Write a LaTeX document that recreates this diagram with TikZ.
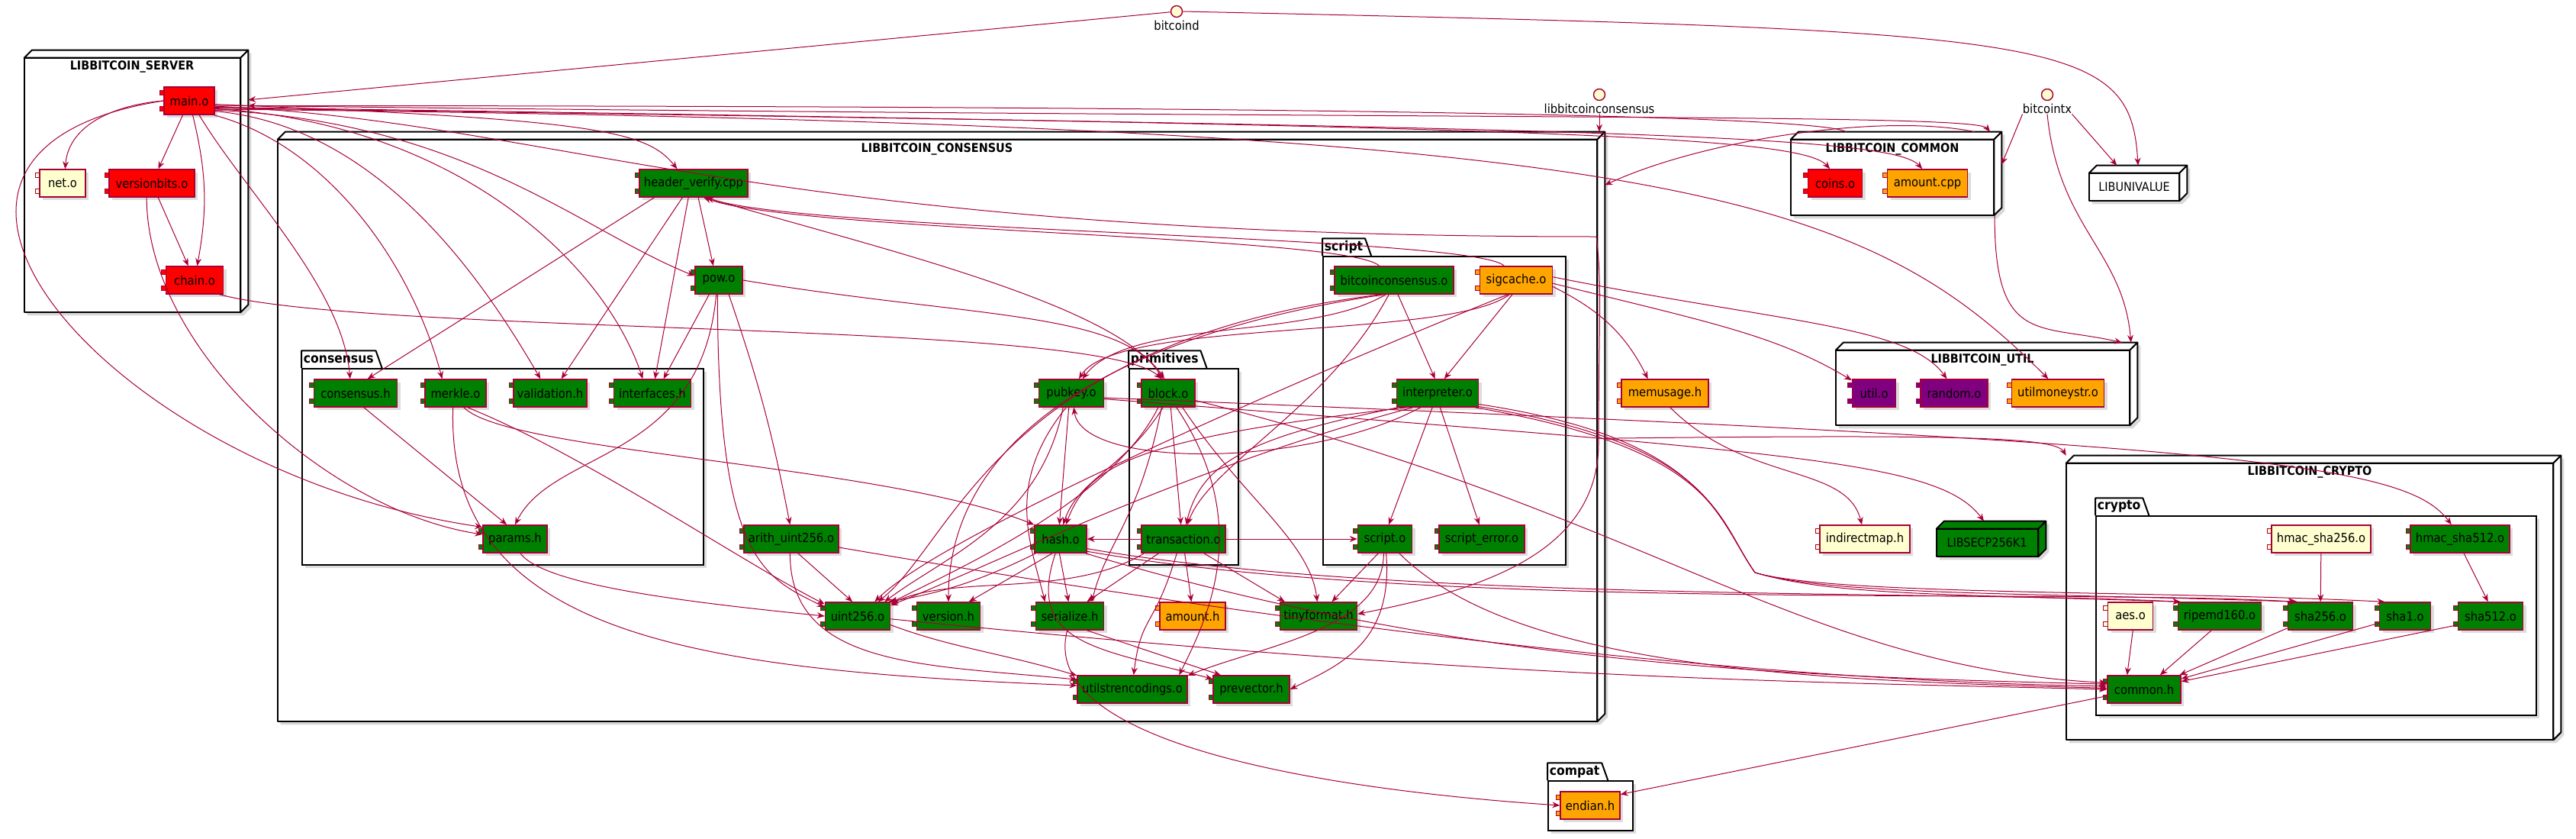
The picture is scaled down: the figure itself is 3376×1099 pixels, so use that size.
\documentclass[tikz,border=0pt]{standalone}
\usepackage{fontspec}
\IfFontExistsTF{DejaVu Sans Condensed}{\setmainfont{DejaVu Sans Condensed}}{\setmainfont{Liberation Sans}}
\usetikzlibrary{positioning,arrows.meta,calc,shadows}

\definecolor{bord}{HTML}{A80036}
\definecolor{cgreen}{HTML}{008000}
\definecolor{cred}{HTML}{FF0000}
\definecolor{corange}{HTML}{FFA500}
\definecolor{cpurple}{HTML}{800080}
\definecolor{cyell}{HTML}{FEFECE}

\tikzset{
  wd/.style={minimum width=#1*0.75pt},
  ht/.style={minimum height=#1*0.75pt},
  dropsh/.style={drop shadow={shadow xshift=3pt, shadow yshift=-3pt, opacity=.22, fill=black!60}},
  comp/.style={draw=bord, fill=#1, line width=1.1pt, ht=36, inner sep=0pt, dropsh,
    append after command={\pgfextra{\draw[draw=bord, fill=#1, line width=0.8pt]
      ($(\tikzlastnode.north west)+(-5,-5)$) rectangle ++(10,-6)
      ($(\tikzlastnode.north west)+(-5,-26)$) rectangle ++(10,-6);}}},
  libline/.style={draw=black, line width=1.5pt, line join=round},
  libbox/.style={inner sep=0pt, append after command={\pgfextra{
    \path[fill=black, opacity=.15, transform canvas={shift={(3pt,-3pt)}}]
      (\tikzlastnode.south west) -- ($(\tikzlastnode.north west)+(0,-10)$) -- ($(\tikzlastnode.north west)+(10,0)$)
      -- (\tikzlastnode.north east) -- ($(\tikzlastnode.south east)+(0,10)$) -- ($(\tikzlastnode.south east)+(-10,0)$) -- cycle;
    \draw[libline, fill=#1] (\tikzlastnode.south west) rectangle ($(\tikzlastnode.north east)+(-10,-10)$);
    \draw[libline, fill=#1] ($(\tikzlastnode.north west)+(0,-10)$) -- ($(\tikzlastnode.north west)+(10,0)$)
      -- (\tikzlastnode.north east) -- ($(\tikzlastnode.north east)+(-10,-10)$) -- cycle;
    \draw[libline, fill=#1] (\tikzlastnode.north east) -- ($(\tikzlastnode.south east)+(0,10)$)
      -- ($(\tikzlastnode.south east)+(-10,0)$) -- ($(\tikzlastnode.north east)+(-10,-10)$) -- cycle;}}},
  libbox/.default=white,
  ttl/.style={inner sep=0pt, font=\bfseries\fontsize{12}{14}\selectfont},
  libname/.style={inner sep=0pt, font=\fontsize{12}{14}\selectfont},
  pkg/.style={draw=black, line width=1.5pt, fill=white, inner sep=0pt, dropsh},
  pkgtab/.style={anchor=south west, inner xsep=2pt, inner ysep=0pt, ht=22, font=\bfseries\fontsize{13}{15}\selectfont},
  pkgline/.style={draw=black, line width=1.5pt, line join=round},
  iface/.style={circle, draw=bord, fill=cyell, line width=1.1pt, minimum size=15*0.75pt, inner sep=0pt},
  itext/.style={inner sep=0pt},
  dep/.style={draw=bord, line width=0.75pt, -{Stealth[length=7.5pt, width=6pt, inset=2.5pt]}}
}

\begin{document}
\begin{tikzpicture}[x=0.75pt, y=0.75pt, every node/.style={font=\fontsize{12.3}{14}\selectfont}]
  \useasboundingbox (0,0) rectangle (3376,-1099);

  % libraries (3d boxes)
  \node[libbox, wd=293, ht=343] (srv) at (178.5,-237.5) {};
  \node[ttl] (srvt) at (173,-87) {LIBBITCOIN\_SERVER};
  \node[libbox, wd=1739, ht=772] (cons) at (1233.5,-559) {};
  \node[ttl] (const) at (1228,-195) {LIBBITCOIN\_CONSENSUS};
  \node[libbox, wd=276, ht=109] (comm) at (2485,-227.5) {};
  \node[ttl] (commt) at (2480,-195) {LIBBITCOIN\_COMMON};
  \node[libbox, wd=128, ht=46] (univ) at (2802,-240) {};
  \node[libname] (univt) at (2797,-245) {LIBUNIVALUE};
  \node[libbox, wd=395, ht=108] (util) at (2603.5,-503) {};
  \node[ttl] (utilt) at (2598,-471) {LIBBITCOIN\_UTIL};
  \node[libbox=cgreen, wd=143, ht=46] (secp) at (2609.5,-706) {};
  \node[libname] (secpt) at (2604,-711) {LIBSECP256K1};
  \node[libbox, wd=648, ht=372] (cryp) at (3032,-783) {};
  \node[ttl] (crypt) at (3027,-618) {LIBBITCOIN\_CRYPTO};

  % folders
  \node[pkg, wd=526, ht=257] (fcons) at (659,-611.5) {};
  \node[pkgtab, wd=92] (fconst) at (fcons.north west) {consensus};
  \draw[pkgline] (fconst.south west) -- (fconst.north west) -- (fconst.north east) -- ($(fconst.south east)+(8,0)$);
  \node[pkg, wd=143, ht=257] (fprim) at (1551.5,-611.5) {};
  \node[pkgtab, wd=85] (fprimt) at (fprim.north west) {primitives};
  \draw[pkgline] (fprimt.south west) -- (fprimt.north west) -- (fprimt.north east) -- ($(fprimt.south east)+(8,0)$);
  \node[pkg, wd=318, ht=404] (fscript) at (1893,-538) {};
  \node[pkgtab, wd=46] (fscriptt) at (fscript.north west) {script};
  \draw[pkgline] (fscriptt.south west) -- (fscriptt.north west) -- (fscriptt.north east) -- ($(fscriptt.south east)+(8,0)$);
  \node[pkg, wd=577, ht=261] (fcrypto) at (3035.5,-806.5) {};
  \node[pkgtab, wd=58] (fcryptot) at (fcrypto.north west) {crypto};
  \draw[pkgline] (fcryptot.south west) -- (fcryptot.north west) -- (fcryptot.north east) -- ($(fcryptot.south east)+(8,0)$);
  \node[pkg, wd=111, ht=65] (fcompat) at (2084.5,-1055.5) {};
  \node[pkgtab, wd=63] (fcompatt) at (fcompat.north west) {compat};
  \draw[pkgline] (fcompatt.south west) -- (fcompatt.north west) -- (fcompatt.north east) -- ($(fcompatt.south east)+(8,0)$);

  % server
  \node[comp=cred, wd=66] (main) at (248,-132) {main.o};
  \node[comp=cyell, wd=60] (net) at (82,-240) {net.o};
  \node[comp=cred, wd=112] (vbits) at (199,-240) {versionbits.o};
  \node[comp=cred, wd=75] (chain) at (255,-367) {chain.o};

  % consensus
  \node[comp=cgreen, wd=142] (hdr) at (909,-240) {header\_verify.cpp};
  \node[comp=cgreen, wd=62] (pow) at (942,-367) {pow.o};
  \node[comp=cgreen, wd=109] (consh) at (466,-515) {consensus.h};
  \node[comp=cgreen, wd=80] (merkle) at (597,-515) {merkle.o};
  \node[comp=cgreen, wd=96] (valid) at (721,-515) {validation.h};
  \node[comp=cgreen, wd=101] (ifaces) at (855,-515) {interfaces.h};
  \node[comp=cgreen, wd=84] (params) at (675,-706) {params.h};
  \node[comp=cgreen, wd=124] (arith) at (1037,-706) {arith\_uint256.o};
  \node[comp=cgreen, wd=85] (uint) at (1124,-807) {uint256.o};
  \node[comp=cgreen, wd=85] (pubkey) at (1404,-515) {pubkey.o};
  \node[comp=cgreen, wd=70] (block) at (1531,-515) {block.o};
  \node[comp=cgreen, wd=110] (tx) at (1551,-706) {transaction.o};
  \node[comp=cgreen, wd=68] (hash) at (1390,-706) {hash.o};
  \node[comp=cgreen, wd=156] (btccons) at (1827,-367) {bitcoinconsensus.o};
  \node[comp=corange, wd=95] (sigcache) at (1987,-367) {sigcache.o};
  \node[comp=cgreen, wd=107] (interp) at (1884,-515) {interpreter.o};
  \node[comp=cgreen, wd=71] (scripto) at (1815,-706) {script.o};
  \node[comp=cgreen, wd=112] (scripterr) at (1942,-706) {script\_error.o};
  \node[comp=cgreen, wd=83] (version) at (1243,-807) {version.h};
  \node[comp=cgreen, wd=89] (serial) at (1402,-807) {serialize.h};
  \node[comp=corange, wd=86] (amounth) at (1563,-807) {amount.h};
  \node[comp=cgreen, wd=101] (tinyf) at (1728,-807) {tinyformat.h};
  \node[comp=cgreen, wd=144] (utilstr) at (1484,-903) {utilstrencodings.o};
  \node[comp=cgreen, wd=100] (prevec) at (1640,-903) {prevector.h};

  % common, util, others
  \node[comp=cred, wd=71] (coins) at (2405,-240) {coins.o};
  \node[comp=corange, wd=105] (amountc) at (2526,-240) {amount.cpp};
  \node[comp=corange, wd=114] (memuse) at (2182,-515) {memusage.h};
  \node[comp=cpurple, wd=57] (utilo) at (2456,-515) {util.o};
  \node[comp=cpurple, wd=88] (random) at (2561,-515) {random.o};
  \node[comp=corange, wd=121] (moneystr) at (2697,-515) {utilmoneystr.o};
  \node[comp=cyell, wd=118] (indmap) at (2444,-706) {indirectmap.h};
  \node[comp=corange, wd=78] (endian) at (2084,-1055) {endian.h};

  % crypto
  \node[comp=cyell, wd=130] (hmac256) at (3042,-706) {hmac\_sha256.o};
  \node[comp=cgreen, wd=130] (hmac512) at (3224,-706) {hmac\_sha512.o};
  \node[comp=cyell, wd=59] (aes) at (2792,-807) {aes.o};
  \node[comp=cgreen, wd=109] (ripemd) at (2909,-807) {ripemd160.o};
  \node[comp=cgreen, wd=85] (sha256) at (3041,-807) {sha256.o};
  \node[comp=cgreen, wd=67] (sha1) at (3152,-807) {sha1.o};
  \node[comp=cgreen, wd=85] (sha512) at (3264,-807) {sha512.o};
  \node[comp=cgreen, wd=96] (commonh) at (2810,-903) {common.h};

  % executables
  \node[iface] (bd) at (1542,-15) {};
  \node[itext, below=3pt of bd] (bdt) {bitcoind};
  \node[iface] (lbc) at (2096,-124) {};
  \node[itext, below=3pt of lbc] (lbct) {libbitcoinconsensus};
  \node[iface] (btx) at (2683,-124) {};
  \node[itext, below=3pt of btx] (btxt) {bitcointx};

  \coordinate (loopne) at (2092,-310);
  \coordinate (loopse) at (2095,-580);
  \coordinate (dip) at (2300,-750);

  % top level links
  \draw[dep] (bd) -- (srv.36);
  \draw[dep] (bd.east) .. controls +(1150,-25) and +(-10,170) .. (univ.north);
  \draw[dep] (lbct.south) -- (lbct.south |- cons.north);
  \draw[dep] (btxt.south east) -- (univ.140);
  \draw[dep] (btxt.south west) -- (comm.5);
  \draw[dep] (btxt.south) .. controls +(15,-150) and +(-10,120) .. (util.16.5);
  \draw[dep] (comm.-23) .. controls +(0,-170) and +(-110,25) .. (util.17.5);
  \draw[dep] (comm.28) .. controls +(-120,25) and +(130,60) .. (cons.20.5);
  \draw[dep] (comm.140) .. controls +(-50,30) and +(800,0) .. (srv.34);
  \draw[dep] (cons.-1.2) .. controls +(450,5) and +(-15,25) .. (cryp.north west);

  % server
  \draw[dep] (main.west) .. controls +(-60,-5) and +(5,60) .. (net.80);
  \draw[dep] (main) -- (vbits);
  \draw[dep] (main) to[bend left=12] (chain);
  \draw[dep] (vbits) -- (chain);
  \draw[dep] (vbits.250) .. controls +(0,-200) and +(-200,30) .. (params.172);
  \draw[dep] (main.west) .. controls +(-435,-68) and +(-483,71) .. (params.160);
  \draw[dep] (main.-10) .. controls +(1600,-20) and +(-20,25) .. (comm.24);
  \draw[dep] (main.-14) .. controls +(1700,-25) and +(-40,45) .. (coins.110);
  \draw[dep] (main.-16) .. controls +(1800,-25) and +(-40,45) .. (amountc.110);
  \draw[dep] (main.-18) .. controls +(1900,-20) and +(-250,250) .. (moneystr.124);
  \draw[dep] (main.-8) .. controls +(500,-20) and +(-40,50) .. (hdr.139);
  \draw[dep] (main.-20) .. controls +(330,-15) and +(-150,60) .. (pow.170);
  \draw[dep] (main.-55) .. controls +(60,-100) and +(-10,120) .. (consh.111);
  \draw[dep] (main.-30) .. controls +(150,-40) and +(-40,150) .. (merkle.133);
  \draw[dep] (main.-22) .. controls +(220,-20) and +(-70,120) .. (valid.124);
  \draw[dep] (main.-17) .. controls +(320,-20) and +(-50,150) .. (ifaces.124);
  \draw[dep] (main.-12) .. controls +(450,-20) and +(-1100,0) .. (loopne)
    .. controls +(8,-60) and +(0,150) .. (loopse) .. controls +(0,-150) and +(150,30) .. (tinyf.3);
  \draw[dep] (chain.-30) .. controls +(207,-54) and +(-84,77) .. (block.115);

  % consensus
  \draw[dep] (hdr.200) -- (consh.50);
  \draw[dep] (hdr.232) -- (valid.52);
  \draw[dep] (hdr.250) -- (ifaces.80);
  \draw[dep] (hdr.288) -- (pow.111);
  \draw[dep] (hdr.310) .. controls +(200,-60) and +(-60,100) .. (block.111);
  \draw[dep] (btccons.136) .. controls +(-40,40) and +(120,-45) .. (hdr.305);
  \draw[dep] (sigcache.130) .. controls +(-40,40) and +(130,-45) .. (hdr.312);
  \draw[dep] (pow.236) -- (ifaces.52);
  \draw[dep] (pow.-55) to[bend left=4] (arith.95);
  \draw[dep] (pow.-95) .. controls +(0,-350) and +(-80,40) .. (uint.165);
  \draw[dep] (pow.-100) .. controls +(-20,-220) and +(50,100) .. (params.north);
  \draw[dep] (pow.east) .. controls +(300,-50) and +(-60,90) .. (block.105);
  \draw[dep] (consh.-60) -- (params.120);
  \draw[dep] (merkle.-60) .. controls +(60,-60) and +(-200,80) .. (hash.north west);
  \draw[dep] (merkle.-100) .. controls +(-10,-300) and +(-500,20) .. (utilstr.176);
  \draw[dep] (merkle.-50) .. controls +(150,-60) and +(-100,50) .. (uint.160);
  \draw[dep] (params.-70) .. controls +(30,-40) and +(-200,20) .. (uint.west);
  \draw[dep] (arith.-65) -- (uint.110);
  \draw[dep] (arith.-95) .. controls +(0,-150) and +(-200,20) .. (utilstr.170);
  \draw[dep] (arith.-10) .. controls +(700,-120) and +(-400,5) .. (commonh.175);
  \draw[dep] (uint.-15) .. controls +(80,-30) and +(-100,30) .. (utilstr.166);
  \draw[dep] (uint.-5) .. controls +(800,-80) and +(-400,10) .. (commonh.180);
  \draw[dep] (hash.-150) .. controls +(-80,-40) and +(60,10) .. (uint.25);
  \draw[dep] (hash.-120) -- (version.35);
  \draw[dep] (hash.-95) -- (serial.95);
  \draw[dep] (hash.-110) .. controls +(-40,-120) and +(-150,40) .. (prevec.165);
  \draw[dep] (hash.-20) .. controls +(400,-70) and +(-300,15) .. (ripemd.160);
  \draw[dep] (hash.-25) .. controls +(450,-80) and +(-300,18) .. (sha256.150);
  \draw[dep] (hash.-30) .. controls +(500,-150) and +(-400,10) .. (commonh.172);
  \draw[dep] (tx.west) -- (hash.east);
  \draw[dep] (tx.east) -- (scripto.west);
  \draw[dep] (tx.-150) -- (serial.40);
  \draw[dep] (tx.-85) -- (amounth.95);
  \draw[dep] (tx.-35) -- (tinyf.157);
  \draw[dep] (tx.-115) .. controls +(-30,-100) and +(10,80) .. (utilstr.85);
  \draw[dep] (tx.-160) .. controls +(-100,-60) and +(80,40) .. (uint.20);
  \draw[dep] (block.-110) .. controls +(-50,-80) and +(20,60) .. (hash.80);
  \draw[dep] (block.-80) -- (tx.100);
  \draw[dep] (block.-115) .. controls +(-30,-150) and +(20,80) .. (serial.33);
  \draw[dep] (block.-125) .. controls +(-60,-120) and +(100,50) .. (uint.22);
  \draw[dep] (block.-60) .. controls +(100,-150) and +(40,80) .. (utilstr.17);
  \draw[dep] (block.-45) .. controls +(80,-120) and +(-10,80) .. (tinyf.95);
  \draw[dep] (block.-15) .. controls +(600,-150) and +(-400,20) .. (commonh.170);
  \draw[dep] (pubkey.-100) -- (hash.95);
  \draw[dep] (pubkey.-120) .. controls +(-30,-150) and +(80,60) .. (uint.28);
  \draw[dep] (pubkey.-110) .. controls +(-80,-100) and +(-20,80) .. (serial.150);
  \draw[dep] (pubkey.-10) .. controls +(900,-70) and +(-60,80) .. (secp.112);
  \draw[dep] (pubkey.-8) .. controls +(1500,-60) and +(-60,80) .. (hmac512.121);

  % script
  \draw[dep] (btccons.-75) -- (interp.100);
  \draw[dep] (btccons.-120) .. controls +(-100,-60) and +(60,80) .. (pubkey.52);
  \draw[dep] (btccons.-110) .. controls +(-80,-150) and +(30,80) .. (tx.75);
  \draw[dep] (btccons.-125) .. controls +(-400,-60) and +(0,190) .. (version.north);
  \draw[dep] (btccons.-130) .. controls +(-500,-60) and +(100,80) .. (uint.35);
  \draw[dep] (sigcache.-105) -- (interp.65);
  \draw[dep] (sigcache.-115) .. controls +(-80,-60) and +(50,80) .. (pubkey.62);
  \draw[dep] (sigcache.-10) .. controls +(60,-30) and +(-30,60) .. (memuse.140);
  \draw[dep] (sigcache.-5) .. controls +(200,-50) and +(-100,60) .. (utilo.150);
  \draw[dep] (sigcache.5) .. controls +(300,-60) and +(-50,70) .. (random.117);
  \draw[dep] (sigcache.-120) .. controls +(-150,-60) and +(100,100) .. (uint.40);
  \draw[dep] (interp.-110) -- (scripto.75);
  \draw[dep] (interp.-80) -- (scripterr.100);
  \draw[dep] (interp.-150) .. controls +(-300,-80) and +(150,60) .. (uint.18);
  \draw[dep] (interp.-155) .. controls +(-350,-40) and +(30,80) .. (hash.70);
  \draw[dep] (interp.-140) .. controls +(-150,-80) and +(10,-80) .. (pubkey.-80);
  \draw[dep] (interp.-160) .. controls +(-200,-40) and +(20,80) .. (tx.80);
  \draw[dep] (interp.-15) .. controls +(300,-45) and +(-50,70) .. (dip)
    .. controls +(100,-30) and +(-300,10) .. (ripemd.160);
  \draw[dep] (interp.-18) .. controls +(310,-50) and +(-50,70) .. (dip)
    .. controls +(100,-30) and +(-350,12) .. (sha256.148);
  \draw[dep] (interp.-21) .. controls +(320,-55) and +(-50,70) .. (dip)
    .. controls +(100,-30) and +(-300,15) .. (sha1.145);
  \draw[dep] (scripto.-115) -- (tinyf.47);
  \draw[dep] (scripto.-95) .. controls +(0,-100) and +(100,40) .. (utilstr.14);
  \draw[dep] (scripto.-85) .. controls +(10,-120) and +(60,30) .. (prevec.east);
  \draw[dep] (scripto.-45) .. controls +(150,-150) and +(-400,10) .. (commonh.178);
  \draw[dep] (serial.-40) -- (prevec.155);
  \draw[dep] (serial.-100) .. controls +(-40,-150) and +(-300,20) .. (endian.west);
  \draw[dep] (memuse.-70) .. controls +(100,-100) and +(-20,80) .. (indmap.102);

  % crypto
  \draw[dep] (commonh.190) -- (endian.20);
  \draw[dep] (hmac256) -- (sha256);
  \draw[dep] (hmac512.-75) -- (sha512.100);
  \draw[dep] (aes.-80) -- (commonh.140);
  \draw[dep] (ripemd.-120) -- (commonh.42);
  \draw[dep] (sha256.-160) -- (commonh.22);
  \draw[dep] (sha1.-165) -- (commonh.16);
  \draw[dep] (sha512.-165) -- (commonh.12);
\end{tikzpicture}
\end{document}
